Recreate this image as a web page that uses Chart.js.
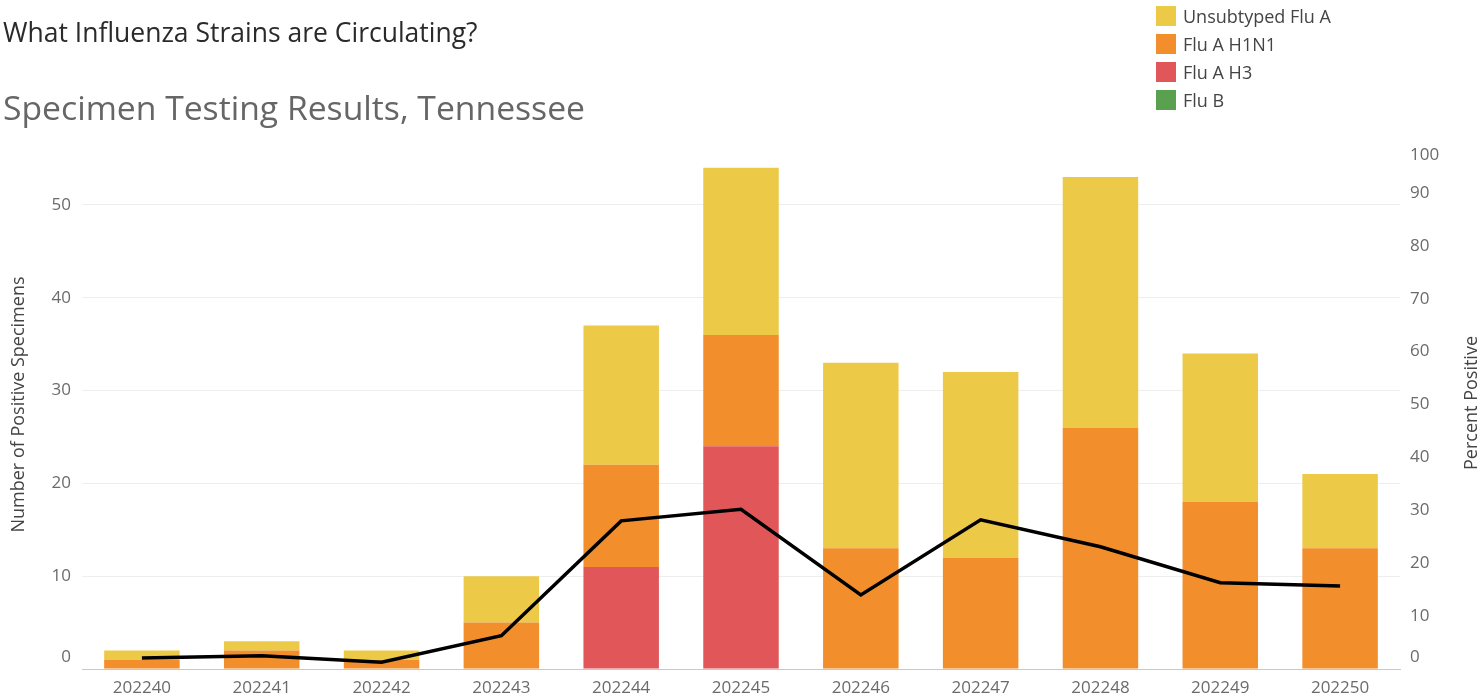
<!DOCTYPE html>
<html>
<head>
    <title>Influenza Strains - Tennessee</title>
    <script src="https://cdn.jsdelivr.net/npm/chart.js"></script>
    <style>
        body { margin: 0; font-family: "Open Sans", sans-serif; background: #fff; }
        #wrap { position: relative; width: 1484px; height: 699px; }
        #chart { position: absolute; left: 0; top: 0; }
        .title { position: absolute; left: 3px; top: 14px; font-size: 26.5px; color: #2a2a2a; line-height: 36px; }
        .subtitle { position: absolute; left: 3px; top: 84px; font-size: 33.7px; color: #666; line-height: 46px; }
        #legend { position: absolute; left: 1156px; top: 2px; }
        .leg-item { height: 28px; display: flex; align-items: center; font-size: 18px; color: #444; }
        .leg-box { width: 20px; height: 20px; margin-right: 7px; }
        /* right axis title reads bottom-to-top in the original */
        #rightTitle { position: absolute; left: 1470px; top: 403px; font-size: 18px; color: #444;
                      white-space: nowrap; transform: translate(-50%, -50%) rotate(-90deg); }
    </style>
</head>
<body>
<div id="wrap">
    <canvas id="chart" width="1484" height="699"></canvas>
    <div class="title">What Influenza Strains are Circulating?</div>
    <div class="subtitle">Specimen Testing Results, Tennessee</div>
    <div id="rightTitle">Percent Positive</div>
    <div id="legend"></div>
</div>
<script>
    // weekly data (MMWR year+week)
    const weeks = ['202240', '202241', '202242', '202243', '202244', '202245', '202246', '202247', '202248', '202249', '202250'];
    const fluB = [0, 0, 0, 0, 0, 0, 0, 0, 0, 0, 0];
    const fluAH3 = [0, 0, 0, 0, 11, 24, 0, 0, 0, 0, 0];
    const fluAH1N1 = [1, 2, 1, 5, 11, 12, 13, 12, 26, 18, 13];
    const unsubtyped = [1, 1, 1, 5, 15, 18, 20, 20, 27, 16, 8];
    const percentPositive = [2.1, 2.5, 1.3, 6.3, 28.0, 30.2, 14.0, 28.2, 23.1, 16.3, 15.7];

    const leftTicks = [0, 10, 20, 30, 40, 50];
    const rightTicks = [0, 10, 20, 30, 40, 50, 60, 70, 80, 90, 100];

    const tickColor = '#6b6b6b';
    const titleFont = { family: 'Open Sans', size: 18 };

    // edge labels sit inside the plot like the original: 0 nudged up, 100 nudged down
    function edgeLabel(v) {
        if (v === 0) return ['0', ''];
        if (v === 100) return ['', '100'];
        return String(v);
    }
    function edgeFont(c) {
        const v = c.tick ? c.tick.value : null;
        let lh = 1.2;
        if (v === 0) lh = 24 / 17;
        if (v === 100) lh = 30 / 17;
        return { family: 'Open Sans', size: 17, lineHeight: lh };
    }
    // keep the plot area fixed, labels may overhang
    function fixY(width) {
        return s => { s.width = width; s.paddingTop = 0; s.paddingBottom = 0; };
    }

    function bar(label, data, color) {
        return { type: 'bar', label: label, data: data, backgroundColor: color, yAxisID: 'y',
                 stack: 'pos', order: 1, barPercentage: 0.63, categoryPercentage: 1 };
    }

    const ctx = document.getElementById('chart').getContext('2d');
    const chart = new Chart(ctx, {
        data: {
            labels: weeks,
            datasets: [
                { type: 'line', label: 'Percent Positive', data: percentPositive, yAxisID: 'y1',
                  borderColor: '#000', borderWidth: 3.5, pointRadius: 0, tension: 0, order: 0 },
                bar('Flu B', fluB, '#59A14F'),
                bar('Flu A H3', fluAH3, '#E15759'),
                bar('Flu A H1N1', fluAH1N1, '#F28E2B'),
                bar('Unsubtyped Flu A', unsubtyped, '#EDC948')
            ]
        },
        options: {
            responsive: false,
            animation: false,
            layout: { padding: { top: 140, left: 0, right: 0, bottom: 0 } },
            plugins: { legend: { display: false }, tooltip: { enabled: false } },
            scales: {
                x: {
                    stacked: true,
                    grid: { display: false, drawTicks: false },
                    border: { display: true, color: '#c8c8c8', dash: [3, 2] },
                    ticks: { font: { family: 'Open Sans', size: 17 }, color: tickColor, padding: 9, maxRotation: 0 },
                    afterFit: s => { s.height = 30; s.paddingLeft = 0; s.paddingRight = 0; }
                },
                y: {
                    position: 'left',
                    stacked: true,
                    min: 0, max: 57,
                    afterBuildTicks: s => { s.ticks = leftTicks.map(v => ({ value: v })); },
                    grid: { color: '#eee', drawTicks: false },
                    border: { display: false },
                    ticks: { font: edgeFont, color: tickColor, padding: 11, callback: edgeLabel, autoSkip: false },
                    title: { display: true, text: 'Number of Positive Specimens', color: '#444',
                             font: titleFont, padding: { top: 8, bottom: 0 } },
                    afterFit: fixY(82)
                },
                y1: {
                    position: 'right',
                    min: 0, max: 100,
                    afterBuildTicks: s => { s.ticks = rightTicks.map(v => ({ value: v })); },
                    grid: { display: false, drawTicks: false },
                    border: { display: false },
                    ticks: { font: edgeFont, color: tickColor, padding: 10, callback: edgeLabel, autoSkip: false },
                    afterFit: fixY(84)
                }
            }
        }
    });

    // html legend, top of stack first
    const legend = document.getElementById('legend');
    chart.data.datasets.filter(d => d.type === 'bar').reverse().forEach(d => {
        const item = document.createElement('div');
        item.className = 'leg-item';
        item.innerHTML = '<div class="leg-box" style="background:' + d.backgroundColor + '"></div>' + d.label;
        legend.appendChild(item);
    });
</script>
</body>
</html>
